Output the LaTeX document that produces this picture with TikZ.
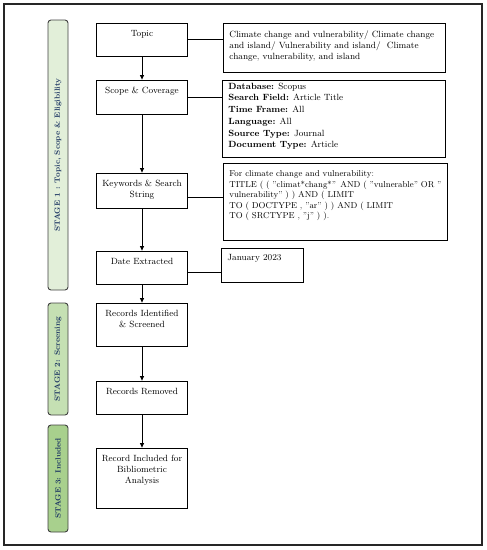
\documentclass[tikz,border=0pt]{standalone}
\usetikzlibrary{arrows.meta, positioning}

\definecolor{stageone}{HTML}{E2EFD9}
\definecolor{stagetwo}{HTML}{C5E0B3}
\definecolor{stagethree}{HTML}{A8D08D}
\definecolor{stageink}{HTML}{1F3864}
\definecolor{bargray}{HTML}{404040}

\newcommand{\steptext}[3][7pt]{\parbox[c][#2][t]{85pt}{\centering\vspace*{#1}#3}}
\newcommand{\infotext}[4][7pt]{\parbox[c][#2][t]{#3}{\raggedright\vspace*{#1}#4}}

\tikzset{
	stepbox/.style={draw, line width=0.8pt, inner xsep=3pt, inner ysep=0pt, font=\fontsize{9}{11}\selectfont},
	infobox/.style={draw, line width=0.8pt, anchor=north west, inner xsep=6pt, inner ysep=0pt, font=\fontsize{9}{11}\selectfont},
	stagebar/.style={draw=bargray, line width=0.9pt, rounded corners=3pt, rotate=90, minimum height=20pt, inner sep=0pt, text=stageink, font=\fontsize{7.6}{9}\selectfont\bfseries}
}

\begin{document}
\begin{tikzpicture}[x=1pt, y=1pt, >={Triangle[length=4.5pt,width=4pt]}]
	\useasboundingbox (0,0) rectangle (487,-550);
	\draw[line width=1.3pt, black!85] (4,-4) rectangle (482,-545);

	\node[stagebar, fill=stageone, minimum width=270pt] 	(stage1) at (58,-155) {STAGE 1 : Topic, Scope \& Eligibility};
	\node[stagebar, fill=stagetwo, minimum width=112pt] 	(stage2) at (58,-359) {STAGE 2: Screening};
	\node[stagebar, fill=stagethree, minimum width=107pt] 	(stage3) at (58,-478.5) {STAGE 3: Included};

	\node[stepbox] 	(topic) at (142,-39.5) {\steptext{33pt}{Topic}};
	\node[stepbox] 	(scope) [below of=topic, node distance=57.5pt] {\steptext{34pt}{Scope \& Coverage}};
	\node[stepbox] 	(keywords) [below of=scope, node distance=93.5pt] {\steptext{35pt}{Keywords \& Search\\String}};
	\node[stepbox] 	(date) [below of=keywords, node distance=77pt] {\steptext{33pt}{Date Extracted}};
	\node[stepbox] 	(recid) [below of=date, node distance=57pt] {\steptext{43pt}{Records Identified\\\& Screened}};
	\node[stepbox] 	(removed) [below of=recid, node distance=73pt] {\steptext{33pt}{Records Removed}};
	\node[stepbox] 	(included) [below of=removed, node distance=80.5pt] {\steptext{60pt}{Record Included for\\Bibliometric\\Analysis}};

	\node[infobox] 	(topicinfo) at (223,-23) {\infotext{49pt}{210pt}{Climate change and vulnerability/ Climate change\\and island/ Vulnerability and island/\ \ Climate\\change, vulnerability, and island}};
	\node[infobox] 	(scopeinfo) at (222,-80) {\infotext[2.5pt]{77pt}{211pt}{\baselineskip=11.7pt
		\textbf{Database:} Scopus\\
		\textbf{Search Field:} Article Title\\
		\textbf{Time Frame:} All\\
		\textbf{Language:} All\\
		\textbf{Source Type:} Journal\\
		\textbf{Document Type:} Article}};
	\node[infobox] 	(kwinfo) at (223,-163) {\infotext[7.5pt]{77pt}{212pt}{\fontsize{8.6}{10.5}\selectfont
		For climate change and vulnerability:\\
		TITLE ( ( "climat*chang*"\, AND ( "vulnerable" OR "\\
		vulnerability" ) ) AND ( LIMIT\\
		TO ( DOCTYPE , "ar" ) ) AND ( LIMIT\\
		TO ( SRCTYPE , "j" ) ).}};
	\node[infobox] 	(dateinfo) at (221,-248) {\infotext[6pt]{34pt}{70pt}{January 2023}};

	\draw[line width=0.8pt] (topic.east) -- (topic.east -| topicinfo.west);
	\draw[line width=0.8pt] (scope.east) -- (scope.east -| scopeinfo.west);
	\draw[line width=0.8pt] ([yshift=-6.5pt]keywords.east) -- ([yshift=-6.5pt]keywords.east -| kwinfo.west);
	\draw[line width=0.8pt] ([yshift=-4.5pt]date.east) -- ([yshift=-4.5pt]date.east -| dateinfo.west);

	\foreach \from/\to in {topic/scope, scope/keywords, keywords/date, date/recid, recid/removed, removed/included}
		\draw[->, line width=0.8pt] (\from) -- (\to);
\end{tikzpicture}
\end{document}
